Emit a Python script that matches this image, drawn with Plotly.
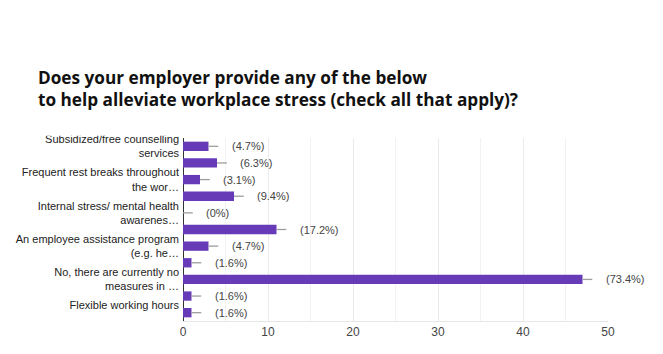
import plotly.graph_objects as go

# --- data ---
labels = [
    "Subsidized/free counselling<br>services", "",
    "Frequent rest breaks throughout<br>the wor…", "",
    "Internal stress/ mental health<br>awarenes…", "",
    "An employee assistance program<br>(e.g. he…", "",
    "No, there are currently no<br>measures in …", "",
    "Flexible working hours<br> ",
]
counts = [3, 4, 2, 6, 0, 11, 3, 1, 47, 1, 1]
pct_labels = ["(4.7%)", "(6.3%)", "(3.1%)", "(9.4%)", "(0%)", "(17.2%)",
              "(4.7%)", "(1.6%)", "(73.4%)", "(1.6%)", "(1.6%)"]
x_ticks = [0, 10, 20, 30, 40, 50]
title = ("Does your employer provide any of the below<br>"
         "to help alleviate workplace stress (check all that apply)?")

positions = list(range(len(counts)))
labeled = [i for i, l in enumerate(labels) if l]

fig = go.Figure()
fig.add_trace(go.Bar(
    x=counts, y=positions, orientation="h", width=0.56,
    marker=dict(color="#673ab7", line=dict(width=0)),
    error_x=dict(type="data", symmetric=False, array=[1.15] * len(counts),
                 arrayminus=[0] * len(counts), width=0, color="#9e9e9e",
                 thickness=1.3),
    hoverinfo="skip",
))

for i, (c, t) in enumerate(zip(counts, pct_labels)):
    fig.add_annotation(x=c, y=i, xref="x", yref="y", text=t, showarrow=False,
                       xanchor="left", yanchor="middle", xshift=21,
                       font=dict(family="Liberation Sans, Arial", size=11, color="#444"))

fig.update_layout(
    width=663, height=354,
    margin=dict(l=183, r=55, t=138, b=33),
    paper_bgcolor="white", plot_bgcolor="white",
    showlegend=False,
    title=dict(text=title, x=38 / 663, xanchor="left", xref="container",
               y=1 - 84 / 354, yanchor="top", yref="container",
               font=dict(family="Open Sans", size=17.2, color="#111", weight="bold")),
    xaxis=dict(range=[0, 50], tickvals=x_ticks, dtick=10,
               showgrid=True, gridcolor="#ebebeb", gridwidth=1,
               minor=dict(dtick=5, showgrid=True, gridcolor="#f2f2f2", gridwidth=1),
               zeroline=True, zerolinecolor="#333", zerolinewidth=1,
               showline=True, linecolor="#e6e6e6", linewidth=1,
               ticks="", tickfont=dict(family="Liberation Sans, Arial", size=12, color="#444"),
               fixedrange=True),
    yaxis=dict(range=[10.5, -0.5], tickvals=labeled,
               ticktext=[labels[i] for i in labeled],
               showgrid=False, zeroline=False, showline=False, ticks="",
               ticklabelstandoff=3,
               tickfont=dict(family="Liberation Sans, Arial", size=11, color="#222"),
               fixedrange=True),
    shapes=[dict(type="rect", xref="paper", yref="paper", x0=-0.5, x1=-0.001,
                 y0=1.012, y1=1.25, fillcolor="white", line=dict(width=0),
                 layer="above")],
)

fig.write_html("out.html")
